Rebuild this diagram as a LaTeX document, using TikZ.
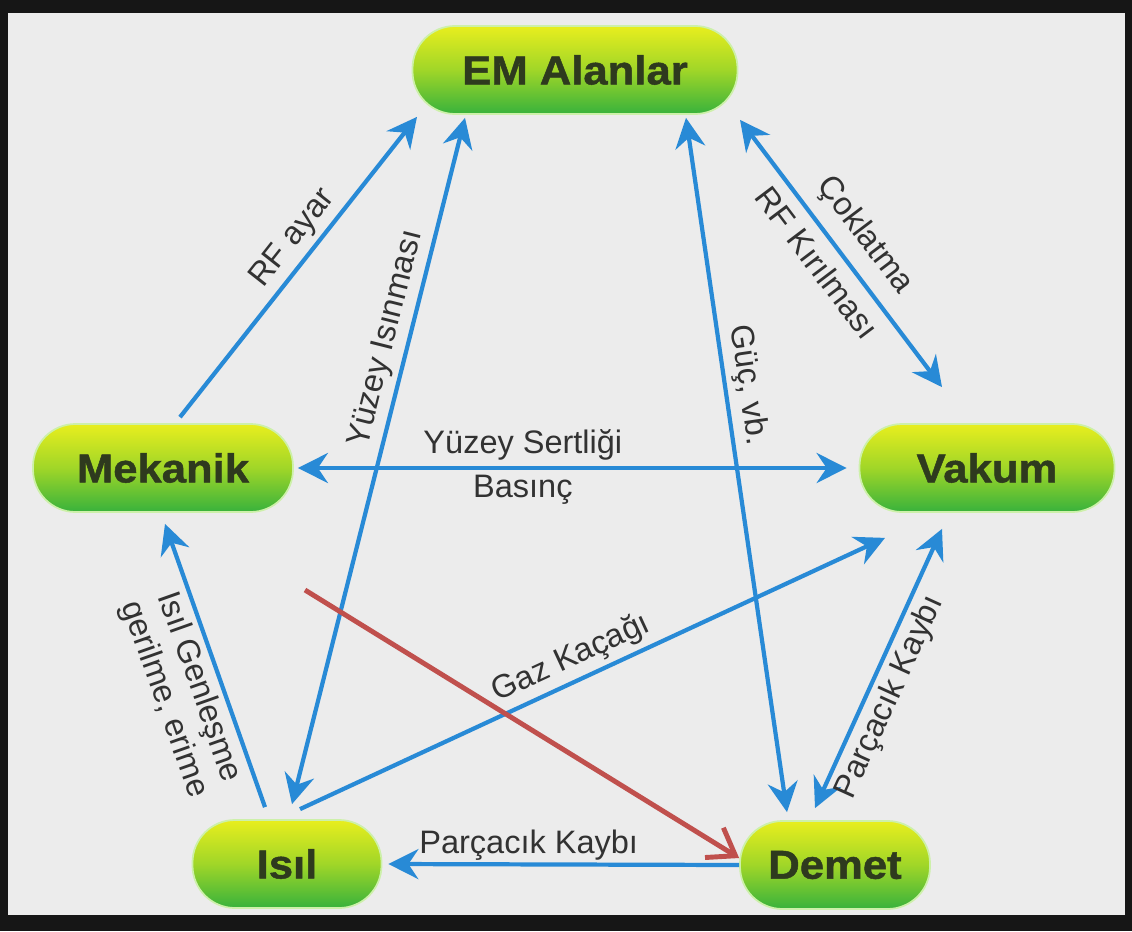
\documentclass[tikz,border=0pt]{standalone}
\usepackage{fontspec}
\setmainfont{Liberation Sans}
\newfontfamily\boxfont[FakeStretch=1.08,FakeBold=1.2]{Liberation Sans}
\usetikzlibrary{arrows.meta}
\definecolor{paper}{RGB}{236,236,236}
\definecolor{frame}{RGB}{22,22,22}
\definecolor{arrowblue}{RGB}{40,138,214}
\definecolor{boxtop}{RGB}{232,238,30}
\definecolor{boxmid}{RGB}{160,214,40}
\definecolor{boxbottom}{RGB}{56,178,60}
\definecolor{boxedge}{RGB}{205,240,170}
\definecolor{boxtext}{RGB}{46,58,30}
\definecolor{labeltext}{RGB}{50,50,50}
\definecolor{pointred}{RGB}{192,80,77}

\begin{document}
\begin{tikzpicture}[>={Stealth[length=6mm,width=6mm,inset=2mm]}]
	\tikzstyle{field}=[rounded corners=0.85cm, top color=boxtop, bottom color=boxbottom, middle color=boxmid,
		draw=boxedge, line width=1pt, text=boxtext, font=\boxfont\bfseries\fontsize{23}{26}\selectfont,
		minimum height=1.76cm]
	\tikzstyle{link}=[arrowblue, line width=2.4pt, ->]
	\tikzstyle{both}=[link, <->]
	\tikzstyle{lbl}=[text=labeltext, font=\fontsize{18.5}{21}\selectfont, sloped, inner sep=3pt]
	\tikzstyle{redarrow}=[pointred, line width=2.8pt, -{Straight Barb[length=5mm,width=7mm]}]

	% paper
	\fill[frame] (0,0) rectangle (22.64,-18.62);
	\fill[paper] (0.16,-0.26) rectangle (22.5,-18.3);

	% fields
	\node[field, minimum width=6.5cm] (em) at (11.5,-1.4) {EM Alanlar};
	\node[field, minimum width=5.2cm] (mek) at (3.26,-9.36) {Mekanik};
	\node[field, minimum width=5.1cm] (vak) at (19.74,-9.36) {Vakum};
	\node[field, minimum width=3.78cm] (isil) at (5.74,-17.28) {Isıl};
	\node[field, minimum width=3.8cm] (dem) at (16.7,-17.3) {Demet};

	% links
	\draw[link] ([xshift=0.34cm,yshift=0.12cm]mek.north) -- ([xshift=-3.16cm,yshift=-0.04cm]em.south)
		node[lbl, above, pos=0.55] {RF ayar};
	\draw[both] ([xshift=0.1cm,yshift=0.3cm]isil.north) -- ([xshift=-2.2cm,yshift=-0.06cm]em.south)
		node[lbl, above, pos=0.67] {Yüzey Isınması};
	\draw[both] ([xshift=0.08cm]mek.east) -- ([xshift=-0.24cm]vak.west)
		node[lbl, above, pos=0.41] {Yüzey Sertliği}
		node[lbl, below, pos=0.41] {Basınç};
	\draw[both] ([xshift=2.22cm,yshift=-0.06cm]em.south) -- ([xshift=-0.96cm,yshift=0.16cm]dem.north)
		node[lbl, above, pos=0.39] {Güç, vb.};
	\draw[both] ([xshift=3.3cm,yshift=-0.1cm]em.south) -- ([xshift=-0.9cm,yshift=0.72cm]vak.north)
		node[lbl, above=4pt, pos=0.5] {Çoklatma}
		node[lbl, below=3pt, pos=0.48] {RF Kırılması};
	\draw[link] ([xshift=0.26cm,yshift=0.2cm]isil.north) -- ([xshift=-2.04cm,yshift=-0.5cm]vak.south)
		node[lbl, above, pos=0.48] {Gaz Kaçağı};
	\draw[both] ([xshift=-0.4cm,yshift=0.24cm]dem.north) -- ([xshift=-0.9cm,yshift=-0.32cm]vak.south)
		node[lbl, below, pos=0.43] {Parçacık Kaybı};
	\draw[link, <-] ([xshift=0.04cm,yshift=-0.22cm]mek.south) -- ([xshift=-0.44cm,yshift=0.24cm]isil.north)
		node[lbl, below, pos=0.55, align=center] {Isıl Genleşme\\gerilme, erime};
	\draw[link, <-] ([xshift=0.12cm]isil.east) -- (dem.west)
		node[lbl, above=-2pt, pos=0.4] {Parçacık Kaybı};

	% red pointer
	\coordinate (redfrom) at (6.1,-11.8);
	\draw[redarrow] (redfrom) -- ([yshift=0.14cm]dem.west);
\end{tikzpicture}
\end{document}
